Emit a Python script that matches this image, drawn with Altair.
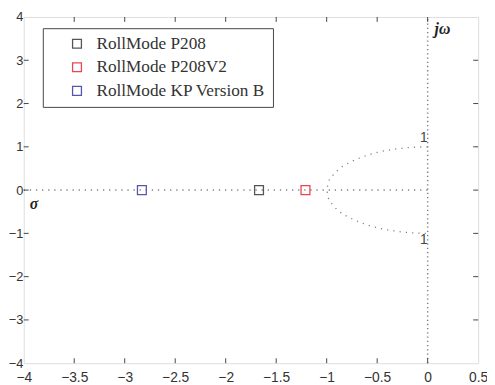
import altair as alt
import pandas as pd

# ---- data ----
series_names = ["RollMode P208", "RollMode P208V2", "RollMode KP Version B"]
series_colors = ["#555555", "#e8474f", "#5555b0"]
pole_sigma = [-1.67, -1.21, -2.83]
pole_omega = [0.0, 0.0, 0.0]

x_ticks = [-4, -3.5, -3, -2.5, -2, -1.5, -1, -0.5, 0, 0.5]
y_ticks = [-4, -3, -2, -1, 0, 1, 2, 3, 4]
x_inner_ticks = [-3.5, -3, -2.5, -2, -1.5, -1, -0.5, 0]
y_inner_ticks = [-3, -2, -1, 0, 1, 2, 3]

real_axis_x = [-4.0, 0.0]
real_axis_y = [0.0, 0.0]
imag_axis_x = [0.0, 0.0]
imag_axis_y = [-4.0, 4.0]

# unit-frequency guide arc
arc_x = [0.0, -0.17, -0.34, -0.5, -0.64, -0.77, -0.87, -0.94, -0.985, -1.0,
         -0.985, -0.94, -0.87, -0.77, -0.64, -0.5, -0.34, -0.17, 0.0]
arc_y = [1.0, 0.985, 0.94, 0.87, 0.77, 0.64, 0.5, 0.34, 0.17, 0.0,
         -0.17, -0.34, -0.5, -0.64, -0.77, -0.87, -0.94, -0.985, -1.0]

W, H = 462, 352
xs = alt.Scale(domain=[-4, 0.5], nice=False, zero=False)
ys = alt.Scale(domain=[-4, 4], nice=False, zero=False)

x_axis = alt.Axis(values=x_ticks, format="~g", ticks=False, domain=False, grid=False,
                  labelFont="Liberation Sans", labelFontSize=14, labelColor="#333",
                  labelPadding=8, title=None, labelFlush=False, labelOverlap=False)
y_axis = alt.Axis(values=y_ticks, format="~g", ticks=False, domain=False, grid=False,
                  labelFont="Liberation Sans", labelFontSize=13, labelColor="#333",
                  labelPadding=1, title=None, labelFlush=False, labelOverlap=False)

dot_color = "#808080"

real_df = pd.DataFrame({"x": real_axis_x, "y": real_axis_y, "o": range(len(real_axis_x))})
imag_df = pd.DataFrame({"x": imag_axis_x, "y": imag_axis_y, "o": range(len(imag_axis_x))})
arc_df = pd.DataFrame({"x": arc_x, "y": arc_y, "o": range(len(arc_x))})

real_line = alt.Chart(real_df).mark_line(color=dot_color, strokeWidth=1.5, strokeDash=[1.3, 4.9]).encode(
    x=alt.X("x:Q", scale=xs, axis=x_axis), y=alt.Y("y:Q", scale=ys, axis=y_axis), order="o:Q")
imag_line = alt.Chart(imag_df).mark_line(color=dot_color, strokeWidth=1.5, strokeDash=[1.3, 3.0]).encode(
    x=alt.X("x:Q", scale=xs), y=alt.Y("y:Q", scale=ys), order="o:Q")
arc_line = alt.Chart(arc_df).mark_line(color=dot_color, strokeWidth=1.3, strokeDash=[1.2, 5.2],
                                       interpolate="monotone").encode(
    x=alt.X("x:Q", scale=xs), y=alt.Y("y:Q", scale=ys), order="o:Q")

# inward ticks (bottom/top/left/right)
xt_df = pd.DataFrame({"x": x_inner_ticks})
yt_df = pd.DataFrame({"y": y_inner_ticks})
tick_color = "#444444"
xt_bottom = alt.Chart(xt_df).mark_rule(color=tick_color).encode(
    x=alt.X("x:Q", scale=xs), y=alt.value(H), y2=alt.value(H - 5))
xt_top = alt.Chart(xt_df).mark_rule(color=tick_color).encode(
    x=alt.X("x:Q", scale=xs), y=alt.value(0), y2=alt.value(5))
yt_left = alt.Chart(yt_df).mark_rule(color=tick_color).encode(
    y=alt.Y("y:Q", scale=ys), x=alt.value(0), x2=alt.value(5))
yt_right = alt.Chart(yt_df).mark_rule(color=tick_color).encode(
    y=alt.Y("y:Q", scale=ys), x=alt.value(W), x2=alt.value(W - 5))

poles_df = pd.DataFrame({"sigma": pole_sigma, "omega": pole_omega, "name": series_names})
poles = alt.Chart(poles_df).mark_point(shape="square", filled=False, size=81, strokeWidth=1.3,
                                       opacity=1).encode(
    x=alt.X("sigma:Q", scale=xs),
    y=alt.Y("omega:Q", scale=ys),
    color=alt.Color("name:N", scale=alt.Scale(domain=series_names, range=series_colors),
                    legend=alt.Legend(title=None, orient="none", legendX=19.4, legendY=11.4,
                                      strokeColor="#444", fillColor="white", padding=7,
                                      symbolType="square", symbolSize=81, symbolStrokeWidth=1.3,
                                      symbolFillColor="transparent", symbolOffset=19,
                                      labelOffset=11, labelFont="Liberation Serif",
                                      labelFontSize=17.5, labelColor="#333", rowPadding=5,
                                      labelExpr="datum.label + '\u2003'",
                                      labelLimit=400)),
)

# annotation texts
one_top = alt.Chart(pd.DataFrame({"x": [0.0], "y": [1.0], "t": ["1"]})).mark_text(
    align="right", baseline="middle", dx=0, dy=-9, font="Liberation Sans", fontSize=14, color="#444").encode(
    x=alt.X("x:Q", scale=xs), y=alt.Y("y:Q", scale=ys), text="t:N")
one_bot = alt.Chart(pd.DataFrame({"x": [0.0], "y": [-1.0], "t": ["1"]})).mark_text(
    align="right", baseline="middle", dx=0, dy=7, font="Liberation Sans", fontSize=14, color="#444").encode(
    x=alt.X("x:Q", scale=xs), y=alt.Y("y:Q", scale=ys), text="t:N")
jw = alt.Chart(pd.DataFrame({"x": [0.0], "y": [4.0], "t": ["jω"]})).mark_text(
    align="left", baseline="middle", dx=7, dy=12, font="Liberation Serif", fontSize=16,
    fontStyle="italic", fontWeight="bold", color="#222").encode(
    x=alt.X("x:Q", scale=xs), y=alt.Y("y:Q", scale=ys), text="t:N")
sigma = alt.Chart(pd.DataFrame({"x": [-4.0], "y": [0.0], "t": ["σ"]})).mark_text(
    align="left", baseline="middle", dx=6, dy=14, font="Liberation Serif", fontSize=16,
    fontStyle="italic", fontWeight="bold", color="#222").encode(
    x=alt.X("x:Q", scale=xs), y=alt.Y("y:Q", scale=ys), text="t:N")

chart = alt.layer(real_line, imag_line, arc_line, xt_bottom, xt_top, yt_left, yt_right,
                  poles, one_top, one_bot, jw, sigma).properties(
    width=W, height=H,
    autosize=alt.AutoSizeParams(type="none"),
    padding={"left": 16, "top": 6, "right": 9, "bottom": 18},
).configure_view(stroke="#444", strokeWidth=1.2).configure(background="white")

chart.save("out.html", embed_options={"renderer": "svg", "actions": False})
